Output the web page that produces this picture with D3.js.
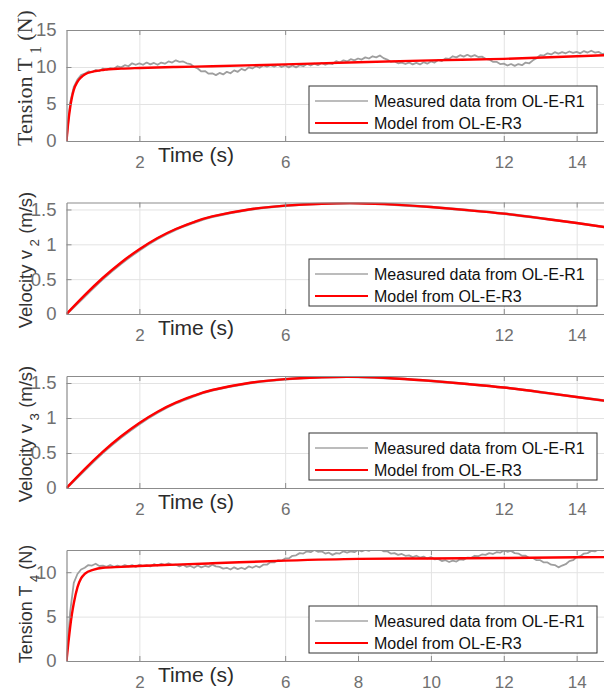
<!DOCTYPE html>
<html>
<head>
<meta charset="utf-8">
<script src="https://cdn.jsdelivr.net/npm/d3@7"></script>
<style>
html,body{margin:0;padding:0;background:#fff;}
svg{display:block;}
</style>
</head>
<body>
<svg id="chart" width="604" height="691"></svg>
<script>
// ---------------- DATA ----------------
const xTicksTop = [2, 6, 12, 14];
const xTicksBottom = [2, 6, 8, 10, 12, 14];
const legendLabels = ["Measured data from OL-E-R1", "Model from OL-E-R3"];

const measuredTime = [0,0.1,0.2,0.3,0.4,0.5,0.6,0.7,0.8,0.9,1.0,1.1,1.2,1.3,1.4,1.5,1.6,1.7,1.8,1.9,
  2.0,2.1,2.2,2.3,2.4,2.5,2.6,2.7,2.8,2.9,3.0,3.1,3.2,3.3,3.4,3.5,3.6,3.7,3.8,3.9,
  4.0,4.1,4.2,4.3,4.4,4.5,4.6,4.7,4.8,4.9,5.0,5.1,5.2,5.3,5.4,5.5,5.6,5.7,5.8,5.9,
  6.0,6.1,6.2,6.3,6.4,6.5,6.6,6.7,6.8,6.9,7.0,7.1,7.2,7.3,7.4,7.5,7.6,7.7,7.8,7.9,
  8.0,8.1,8.2,8.3,8.4,8.5,8.6,8.7,8.8,8.9,9.0,9.1,9.2,9.3,9.4,9.5,9.6,9.7,9.8,9.9,
  10.0,10.1,10.2,10.3,10.4,10.5,10.6,10.7,10.8,10.9,11.0,11.1,11.2,11.3,11.4,11.5,11.6,11.7,11.8,11.9,
  12.0,12.1,12.2,12.3,12.4,12.5,12.6,12.7,12.8,12.9,13.0,13.1,13.2,13.3,13.4,13.5,13.6,13.7,13.8,13.9,
  14.0,14.1,14.2,14.3,14.4,14.5,14.6,14.7,14.8];

const tension1Measured = [0,5.2,7.3,8.3,8.9,9.1,9.4,9.3,9.6,9.45,
  9.8,9.6,9.85,9.75,10.1,9.95,10.25,10.1,10.5,10.3,
  10.5,10.3,10.6,10.35,10.55,10.3,10.6,10.45,10.75,10.6,
  10.9,10.7,10.75,10.5,10.4,10.0,9.8,9.4,9.45,9.1,
  9.15,8.9,9.2,9.0,9.35,9.15,9.55,9.35,9.75,9.55,
  9.95,9.8,10.1,9.9,10.25,10.05,10.25,10.05,10.3,10.0,
  10.2,9.95,10.2,9.95,10.25,10.1,10.4,10.2,10.45,10.25,
  10.55,10.3,10.5,10.4,10.8,10.6,10.9,10.75,11.05,10.9,
  11.15,11.0,11.3,11.15,11.45,11.3,11.55,11.2,11.0,10.7,
  10.75,10.5,10.6,10.4,10.6,10.35,10.55,10.35,10.65,10.45,
  10.75,10.6,10.95,10.8,11.15,11.1,11.45,11.3,11.6,11.4,
  11.65,11.4,11.6,11.35,11.4,11.1,11.0,10.7,10.7,10.4,
  10.45,10.2,10.4,10.15,10.4,10.25,10.6,10.5,10.9,11.2,
  11.6,11.55,11.85,11.7,12.0,11.8,12.0,11.85,12.1,11.9,
  12.05,11.85,12.15,11.95,12.2,11.95,12.05,11.75,11.85];

const tension4Measured = [0,5.5,8.8,9.8,10.3,10.5,10.8,10.75,10.95,10.7,
  10.75,10.6,10.8,10.6,10.75,10.6,10.8,10.65,10.8,10.6,
  10.85,10.7,10.8,10.65,10.9,10.75,10.95,10.8,11.0,10.8,
  10.85,10.65,10.85,10.6,10.7,10.5,10.75,10.55,10.7,10.6,
  10.85,10.65,10.6,10.4,10.5,10.3,10.55,10.35,10.5,10.35,
  10.65,10.5,10.7,10.55,10.85,10.85,11.15,11.1,11.35,11.3,
  11.55,11.55,11.85,11.9,12.15,12.1,12.35,12.25,12.5,12.3,
  12.35,12.1,12.2,11.95,12.15,12.1,12.35,12.2,12.35,12.25,
  12.5,12.35,12.5,12.4,12.65,12.5,12.6,12.35,12.35,12.1,
  12.15,11.95,12.05,11.85,11.9,11.7,11.85,11.65,11.75,11.55,
  11.7,11.45,11.5,11.25,11.35,11.15,11.3,11.2,11.45,11.4,
  11.65,11.6,11.85,11.8,12.0,11.95,12.15,12.05,12.25,12.2,
  12.45,12.3,12.4,12.15,12.1,11.85,11.85,11.6,11.6,11.35,
  11.35,11.1,11.1,10.85,10.8,10.55,10.75,10.9,11.25,11.35,
  11.7,11.8,12.1,12.15,12.4,12.35,12.55,12.45,12.6];

const tensionModelTime = [0,0.05,0.1,0.15,0.2,0.3,0.4,0.5,0.75,1,1.5,2,3,4,6,8,10,12,14,14.8];
const tension1Model = [0,2.6,4.5,5.9,6.9,8.0,8.6,9.0,9.4,9.6,9.78,9.87,10.0,10.1,10.35,10.65,10.9,11.1,11.45,11.6];
const tension4Model = [0,2.0,3.8,5.3,6.5,8.3,9.3,9.8,10.3,10.5,10.6,10.7,10.85,11.0,11.3,11.5,11.55,11.6,11.68,11.7];

const velocityTime = [0,0.5,1,1.5,2,2.5,3,3.5,4,5,6,7,8,9,10,11,12,13,14,14.8];
const velocity2Model = [0,0.27,0.52,0.74,0.93,1.09,1.22,1.32,1.40,1.50,1.555,1.583,1.59,1.57,1.535,1.49,1.44,1.375,1.305,1.245];
const velocity2Measured = [0,0.255,0.505,0.725,0.917,1.08,1.212,1.314,1.395,1.497,1.553,1.582,1.59,1.57,1.535,1.49,1.44,1.375,1.305,1.245];
const velocity3Model = [0,0.27,0.52,0.74,0.93,1.09,1.22,1.32,1.40,1.50,1.555,1.583,1.588,1.565,1.53,1.485,1.435,1.37,1.30,1.245];
const velocity3Measured = [0,0.255,0.505,0.725,0.917,1.08,1.212,1.314,1.395,1.497,1.553,1.582,1.588,1.565,1.53,1.485,1.435,1.37,1.30,1.245];

// ---------------- LAYOUT ----------------
const svg = d3.select("#chart");
const X0 = 66.5, X1 = 604;
const x = d3.scaleLinear().domain([0, 14.75]).range([X0, X1]);

const panels = [
  {top: 30, bottom: 141, domain: [0, 15], yTicks: [0, 5, 10, 15], xTicks: xTicksTop,
   mT: measuredTime, mV: tension1Measured, fT: tensionModelTime, fV: tension1Model, smooth: false,
   label: {main: "Tension T", sub: "1", tail: " (N)", serif: true, cy: 78, size: 22, bx: 32}},
  {top: 202.5, bottom: 314, domain: [0, 1.6], yTicks: [0, 0.5, 1, 1.5], xTicks: xTicksTop,
   mT: velocityTime, mV: velocity2Measured, fT: velocityTime, fV: velocity2Model, smooth: true,
   label: {main: "Velocity v", sub: "2", tail: " (m/s)", serif: false, cy: 260, size: 18.5, bx: 32}},
  {top: 376, bottom: 488, domain: [0, 1.6], yTicks: [0, 0.5, 1, 1.5], xTicks: xTicksTop,
   mT: velocityTime, mV: velocity3Measured, fT: velocityTime, fV: velocity3Model, smooth: true,
   label: {main: "Velocity v", sub: "3", tail: " (m/s)", serif: false, cy: 434, size: 18.5, bx: 32}},
  {top: 550, bottom: 661, domain: [0, 12.5], yTicks: [0, 5, 10], xTicks: xTicksBottom,
   mT: measuredTime, mV: tension4Measured, fT: tensionModelTime, fV: tension4Model, smooth: false,
   label: {main: "Tension T", sub: "4", tail: " (N)", serif: false, cy: 604, size: 18, bx: 32}}
];

const axisColor = "#8c8c8c";
const gridColor = "#e3e3e3";
const tickTextColor = "#707070";

panels.forEach((p, i) => {
  const y = d3.scaleLinear().domain(p.domain).range([p.bottom, p.top]);
  const g = svg.append("g");
  const h = p.bottom - p.top;

  const cid = "clip" + i;
  svg.append("clipPath").attr("id", cid)
    .append("rect").attr("x", X0).attr("y", p.top).attr("width", X1 - X0).attr("height", h);

  // grid
  g.append("g").attr("transform", `translate(0,${p.bottom})`)
    .call(d3.axisBottom(x).tickValues(p.xTicks).tickSize(-h).tickFormat(""))
    .call(s => { s.select(".domain").remove(); s.selectAll("line").attr("stroke", gridColor).attr("stroke-width", 1); });
  g.append("g").attr("transform", `translate(${X0},0)`)
    .call(d3.axisLeft(y).tickValues(p.yTicks).tickSize(-(X1 - X0)).tickFormat(""))
    .call(s => { s.select(".domain").remove(); s.selectAll("line").attr("stroke", gridColor).attr("stroke-width", 1); });

  // data lines
  const dg = g.append("g").attr("clip-path", `url(#${cid})`);
  const n = Math.min(p.mT.length, p.mV.length);
  const mData = p.mT.slice(0, n).map((t, k) => [t, p.mV[k]]);
  const fData = p.fT.map((t, k) => [t, p.fV[k]]);
  dg.append("path").datum(mData)
    .attr("fill", "none").attr("stroke", "#9e9e9e").attr("stroke-width", p.smooth ? 2.6 : 1.8)
    .attr("stroke-linejoin", "round")
    .attr("d", d3.line().x(d => x(d[0])).y(d => y(d[1])).curve(p.smooth ? d3.curveNatural : d3.curveLinear));
  dg.append("path").datum(fData)
    .attr("fill", "none").attr("stroke", "#ff0000").attr("stroke-width", 2.4)
    .attr("d", d3.line().x(d => x(d[0])).y(d => y(d[1])).curve(p.smooth ? d3.curveNatural : d3.curveMonotoneX));

  // axes
  const bottomAxis = g.append("g").attr("transform", `translate(0,${p.bottom})`)
    .call(d3.axisBottom(x).tickValues(p.xTicks).tickSizeInner(-5).tickSizeOuter(0).tickPadding(15).tickFormat(d3.format("d")));
  const topAxis = g.append("g").attr("transform", `translate(0,${p.top})`)
    .call(d3.axisTop(x).tickValues(p.xTicks).tickSizeInner(-5).tickSizeOuter(0).tickFormat(""));
  const leftAxis = g.append("g").attr("transform", `translate(${X0},0)`)
    .call(d3.axisLeft(y).tickValues(p.yTicks).tickSizeInner(-5).tickSizeOuter(0).tickPadding(10).tickFormat(d => String(d)));
  [bottomAxis, topAxis, leftAxis].forEach(a => {
    a.select(".domain").attr("stroke", axisColor).attr("stroke-width", 1.2);
    a.selectAll(".tick line").attr("stroke", axisColor);
  });
  bottomAxis.selectAll("text").attr("fill", tickTextColor).style("font-family", "Liberation Sans, Arial, sans-serif").style("font-size", "17px");
  leftAxis.selectAll("text").attr("fill", tickTextColor).style("font-family", "Liberation Sans, Arial, sans-serif").style("font-size", "18.5px");

  // x label
  g.append("text").attr("x", 196).attr("y", p.bottom + 21)
    .attr("text-anchor", "middle").attr("fill", "#2b2b2b")
    .style("font-family", "Liberation Sans, Arial, sans-serif").style("font-size", "21px")
    .text("Time (s)");

  // y label
  const L = p.label;
  const yl = svg.append("text")
    .attr("transform", `translate(${L.bx},${L.cy}) rotate(-90)`)
    .attr("text-anchor", "middle").attr("fill", "#333")
    .style("font-family", L.serif ? "Liberation Serif, Times New Roman, serif" : "Liberation Sans, Arial, sans-serif")
    .style("font-size", L.size + "px");
  yl.append("tspan").text(L.main);
  yl.append("tspan").attr("dy", L.serif ? 9 : 7).style("font-size", (L.size * 0.72) + "px").text(" " + L.sub);
  yl.append("tspan").attr("dy", L.serif ? -9 : -7).text(L.tail);

  // legend
  const lx = 309, lw = 288, lt = p.bottom - 55, lh = 47;
  const lg = g.append("g");
  lg.append("rect").attr("x", lx).attr("y", lt).attr("width", lw).attr("height", lh)
    .attr("fill", "#fff").attr("stroke", "#333").attr("stroke-width", 1);
  const rows = [
    {label: legendLabels[0], color: "#a6a6a6", w: 1.6, dy: 15},
    {label: legendLabels[1], color: "#ff0000", w: 2, dy: 37}
  ];
  rows.forEach(r => {
    lg.append("line").attr("x1", 315).attr("x2", 368).attr("y1", lt + r.dy).attr("y2", lt + r.dy)
      .attr("stroke", r.color).attr("stroke-width", r.w);
    lg.append("text").attr("x", 374).attr("y", lt + r.dy + 6)
      .attr("fill", "#111").style("font-family", "Liberation Sans, Arial, sans-serif").style("font-size", "16px")
      .text(r.label);
  });
});
</script>
</body>
</html>
